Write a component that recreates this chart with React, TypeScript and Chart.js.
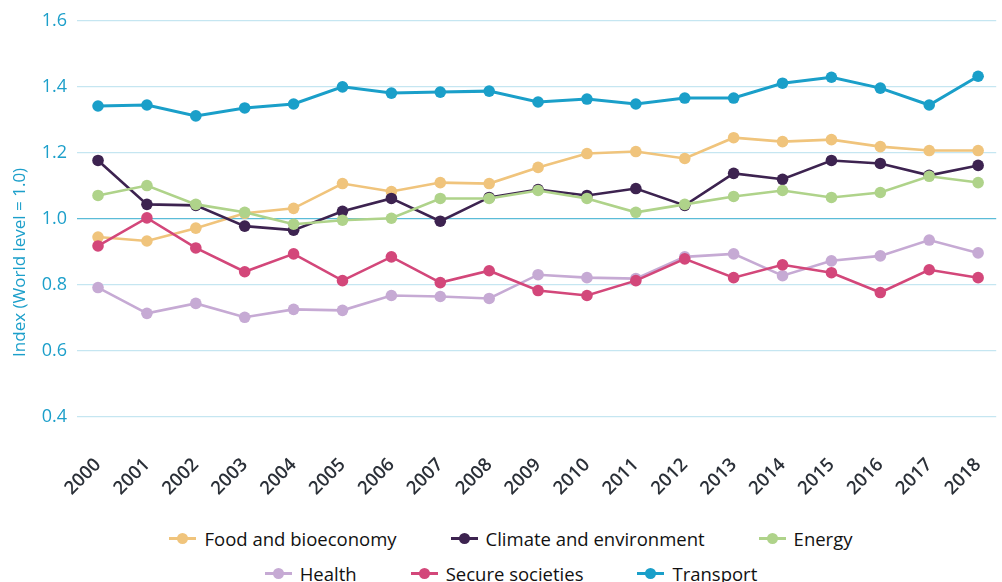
import React, { useEffect, useRef } from "react";
import { Chart, registerables } from "chart.js";

Chart.register(...registerables);

const years = [2000, 2001, 2002, 2003, 2004, 2005, 2006, 2007, 2008, 2009, 2010, 2011, 2012, 2013, 2014, 2015, 2016, 2017, 2018];

const food = [0.945, 0.933, 0.972, 1.017, 1.032, 1.107, 1.083, 1.11, 1.107, 1.156, 1.198, 1.204, 1.183, 1.246, 1.234, 1.24, 1.219, 1.207, 1.207];
const climate = [1.177, 1.044, 1.041, 0.978, 0.966, 1.023, 1.062, 0.993, 1.065, 1.089, 1.071, 1.092, 1.041, 1.138, 1.12, 1.177, 1.168, 1.132, 1.162];
const energy = [1.071, 1.101, 1.044, 1.02, 0.984, 0.996, 1.002, 1.062, 1.062, 1.086, 1.062, 1.02, 1.044, 1.068, 1.086, 1.065, 1.08, 1.129, 1.11];
const health = [0.792, 0.714, 0.744, 0.702, 0.726, 0.723, 0.768, 0.765, 0.759, 0.831, 0.822, 0.819, 0.885, 0.894, 0.828, 0.873, 0.888, 0.936, 0.897];
const secure = [0.918, 1.003, 0.912, 0.84, 0.894, 0.813, 0.885, 0.807, 0.843, 0.783, 0.768, 0.813, 0.879, 0.822, 0.861, 0.837, 0.777, 0.846, 0.822];
const transport = [1.342, 1.345, 1.312, 1.336, 1.348, 1.4, 1.381, 1.384, 1.387, 1.354, 1.363, 1.348, 1.366, 1.366, 1.411, 1.429, 1.396, 1.345, 1.432];

const seriesNames = ["Food and bioeconomy", "Climate and environment", "Energy", "Health", "Secure societies", "Transport"];
const seriesValues = [food, climate, energy, health, secure, transport];
const seriesColors = ["#f0c47c", "#3d2350", "#afd38a", "#c6aad4", "#d3477a", "#1a9fc9"];

const yTicks = [0.4, 0.6, 0.8, 1.0, 1.2, 1.4, 1.6];
const yTitle = "Index (World level = 1.0)";

const legendRows = [[0, 1, 2], [3, 4, 5]];

const FONT = "'Open Sans', 'DejaVu Sans', sans-serif";
const BLUE = "#1c9fca";

export default function App() {
  const ref = useRef<HTMLCanvasElement | null>(null);

  useEffect(() => {
    if (!ref.current) return;
    const titlePlugin = {
      id: "yTitle",
      afterDraw(chart: any) {
        const ctx = chart.ctx;
        const area = chart.chartArea;
        const xs = chart.scales.x;
        const cy = (area.top + xs.bottom) / 2 + 2;
        ctx.save();
        ctx.translate(20, cy);
        ctx.rotate(-Math.PI / 2);
        ctx.font = "17px " + FONT;
        ctx.fillStyle = BLUE;
        ctx.textAlign = "center";
        ctx.textBaseline = "middle";
        ctx.fillText(yTitle, 0, 0);
        ctx.restore();
      },
    };

    const chart = new Chart(ref.current, {
      type: "line",
      data: {
        datasets: seriesNames.map((name, i) => ({
          label: name,
          data: years.map((yr, j) => ({ x: yr, y: seriesValues[i][j] })),
          borderColor: seriesColors[i],
          backgroundColor: seriesColors[i],
          pointBackgroundColor: seriesColors[i],
          pointBorderColor: seriesColors[i],
          borderWidth: i === 5 ? 3 : 2.6,
          pointRadius: 5.8,
          pointBorderWidth: 0,
          tension: 0,
          order: 6 - i,
        })),
      },
      options: {
        animation: false,
        responsive: false,
        layout: { padding: { top: 18, right: 2, left: 0, bottom: 0 } },
        plugins: { legend: { display: false }, tooltip: { enabled: false } },
        scales: {
          x: {
            type: "linear",
            min: 1999.57,
            max: 2018.37,
            afterBuildTicks: (s: any) => {
              s.ticks = years.map((v) => ({ value: v }));
            },
            afterFit: (s: any) => {
              s.height = 83;
              s.paddingLeft = 0;
              s.paddingRight = 0;
            },
            grid: { display: false, drawTicks: false },
            border: { display: false },
            ticks: {
              autoSkip: false,
              minRotation: 45,
              maxRotation: 45,
              padding: 37,
              color: "#2b3038",
              font: { family: FONT, size: 18.5, weight: "600" },
              callback: (v: any) => String(v),
            },
          },
          y: {
            min: 0.4,
            max: 1.6,
            afterBuildTicks: (s: any) => {
              s.ticks = yTicks.map((v) => ({ value: v }));
            },
            afterFit: (s: any) => {
              s.width = 77;
            },
            grid: {
              drawTicks: false,
              color: (c: any) => (c.tick && Math.abs(c.tick.value - 1) < 1e-6 ? "#5bbcd8" : "#c5e6f1"),
              lineWidth: 1.2,
            },
            border: { display: false },
            ticks: {
              padding: 10,
              color: BLUE,
              font: { family: FONT, size: 18 },
              callback: (v: any) => Number(v).toFixed(1),
            },
          },
        },
      },
      plugins: [titlePlugin],
    } as any);
    return () => chart.destroy();
  }, []);

  return (
    <div style={{ position: "absolute", left: 0, top: 0, width: 1002, height: 582, overflow: "hidden", background: "#fff" }}>
      <canvas ref={ref} width={1002} height={500} style={{ display: "block", width: 1002, height: 500 }} />
      {legendRows.map((row, r) => (
        <div
          key={r}
          style={{
            position: "absolute",
            left: 10,
            width: 1002,
            top: r === 0 ? 525 : 560,
            height: 26,
            display: "flex",
            justifyContent: "center",
            alignItems: "center",
            gap: 54,
            fontFamily: FONT,
            fontSize: 18.5,
            color: "#111",
          }}
        >
          {row.map((i) => (
            <div key={i} style={{ display: "flex", alignItems: "center", gap: 8 }}>
              <div style={{ position: "relative", width: 27, height: 12 }}>
                <div style={{ position: "absolute", left: 0, right: 0, top: 5, height: 2.5, background: seriesColors[i] }} />
                <div style={{ position: "absolute", left: 8, top: 1, width: 11, height: 11, borderRadius: "50%", background: seriesColors[i] }} />
              </div>
              <span style={{ whiteSpace: "nowrap" }}>{seriesNames[i]}</span>
            </div>
          ))}
        </div>
      ))}
    </div>
  );
}
